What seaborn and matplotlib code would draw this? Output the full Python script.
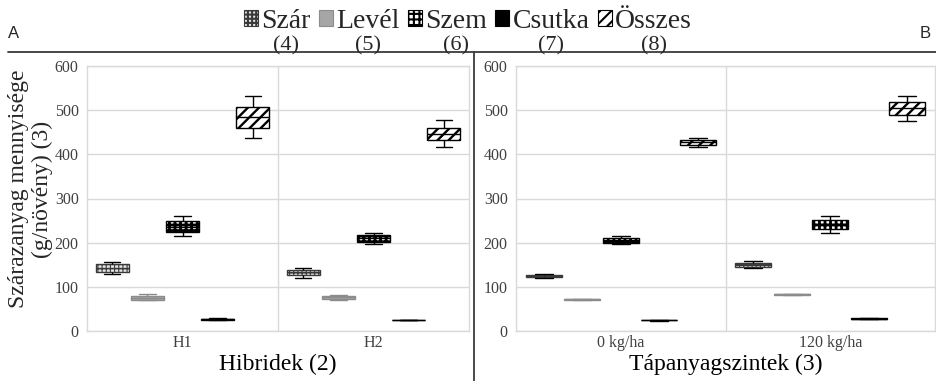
import matplotlib
matplotlib.use("Agg")
import matplotlib.pyplot as plt
from matplotlib.lines import Line2D
from matplotlib.patches import Patch
import seaborn as sns
import pandas as pd

# ---------------- data (min, q1, median, q3, max) ----------------
parts = ["Szár", "Levél", "Szem", "Csutka", "Összes"]
part_nums = ["(4)", "(5)", "(6)", "(7)", "(8)"]

cats_a = ["H1", "H2"]
a_szar = [[128, 134, 142, 151, 157], [121, 127, 133, 139, 143]]
a_level = [[70, 71, 75, 79, 83], [70, 72, 76, 80, 82]]
a_szem = [[215, 225, 236, 248, 261], [196, 201, 210, 217, 223]]
a_csutka = [[24, 25, 26.5, 28, 29], [24, 24.5, 25, 25.5, 26]]
a_osszes = [[437, 460, 484, 507, 532], [417, 432, 447, 460, 477]]

cats_b = ["0 kg/ha", "120 kg/ha"]
b_szar = [[120, 122, 124, 126, 128], [142, 145, 150, 155, 158]]
b_level = [[70, 70.5, 72, 73, 73], [82, 82.5, 83, 83.5, 84]]
b_szem = [[196, 200, 205, 210, 214], [223, 232, 242, 251, 261]]
b_csutka = [[23.5, 24, 24, 24.5, 25], [27, 27.5, 28, 28.5, 29]]
b_osszes = [[417, 422, 427, 433, 437], [475, 489, 504, 518, 533]]

xlabel_a = "Hibridek (2)"
xlabel_b = "Tápanyagszintek (3)"
ylabel = "Szárazanyag mennyisége\n(g/növény) (3)"
yticks = [0, 100, 200, 300, 400, 500, 600]


def long_df(cats, series):
    rows = []
    for part, vals in zip(parts, series):
        for cat, five in zip(cats, vals):
            for v in five:
                rows.append({"cat": cat, "part": part, "val": v})
    return pd.DataFrame(rows)


df_a = long_df(cats_a, [a_szar, a_level, a_szem, a_csutka, a_osszes])
df_b = long_df(cats_b, [b_szar, b_level, b_szem, b_csutka, b_osszes])

# ---------------- styles ----------------
serif = "Liberation Serif"
sns.set_theme(style="white")
plt.rcParams["font.family"] = [serif, "DejaVu Serif"]
plt.rcParams["hatch.linewidth"] = 1.5

styles = {
    "Szár":   dict(face="#e6e6e6", edge="#3a3a3a", hatch="++++", wcol="#000000", hlw=0.8),
    "Levél":  dict(face="#a6a6a6", edge="#8c8c8c", hatch=None, wcol="#8c8c8c", hlw=1.0),
    "Szem":   dict(face="#ffffff", edge="#000000", hatch="+++", wcol="#000000", hlw=2.0),
    "Csutka": dict(face="#000000", edge="#000000", hatch=None, wcol="#000000", hlw=1.0),
    "Összes": dict(face="#ffffff", edge="#000000", hatch="///", wcol="#000000", hlw=1.7),
}
grid_col = "#d9d9d9"
tick_col = "#404040"

fig = plt.figure(figsize=(9.36, 3.81), dpi=100)
ax_a = fig.add_axes([87 / 936, 1 - 331 / 381, (469 - 87) / 936, (331 - 66) / 381])
ax_b = fig.add_axes([516 / 936, 1 - 331 / 381, (935 - 516) / 936, (331 - 66) / 381])


def draw(ax, df, cats, xlabel):
    sns.boxplot(data=df, x="cat", y="val", hue="part", order=cats, hue_order=parts,
                whis=(0, 100), width=0.92, gap=0.06, linewidth=1.0,
                fliersize=0, legend=False, ax=ax,
                palette={p: styles[p]["face"] for p in parts})
    for cont, p in zip(ax.containers, parts):
        st = styles[p]
        for b in cont.boxes:
            b.set_facecolor(st["face"])
            b.set_edgecolor(st["edge"])
            b.set_linewidth(1.0)
            if st["hatch"]:
                b.set_hatch(st["hatch"])
                if hasattr(b, "set_hatch_linewidth"):
                    b.set_hatch_linewidth(st["hlw"])
        for ln in list(cont.whiskers) + list(cont.caps):
            ln.set_color(st["wcol"])
            ln.set_linewidth(1.0)
        for ln in cont.medians:
            ln.set_color(st["edge"] if p != "Levél" else "#8c8c8c")
            ln.set_linewidth(1.0)
    ax.set_ylim(0, 600)
    ax.set_xlim(-0.5, 1.5)
    ax.set_yticks(yticks)
    ax.set_xticks([0, 1])
    ax.set_xticks([0.5], minor=True)
    ax.grid(True, axis="y", color=grid_col, linewidth=1.0)
    ax.grid(True, axis="x", which="minor", color=grid_col, linewidth=1.0)
    ax.set_axisbelow(True)
    for s in ax.spines.values():
        s.set_color(grid_col)
        s.set_linewidth(1.0)
        s.set_visible(True)
    ax.tick_params(axis="y", which="both", length=0, labelsize=11.5, colors=tick_col, pad=6)
    ax.tick_params(axis="x", which="both", length=0, labelsize=11.5, colors=tick_col, pad=3)
    ax.set_xlabel(xlabel, fontsize=17, color="#000000", labelpad=2)
    ax.set_ylabel("")


draw(ax_a, df_a, cats_a, xlabel_a)
draw(ax_b, df_b, cats_b, xlabel_b)
ax_a.set_ylabel(ylabel, fontsize=17, linespacing=1.15)
ax_a.yaxis.set_label_coords(-0.09, 0.535)

# figure separator lines
fig.add_artist(Line2D([8 / 936, 1.0], [1 - 52 / 381, 1 - 52 / 381], transform=fig.transFigure,
                      color="#3a3a3a", linewidth=1.3))
fig.add_artist(Line2D([474 / 936, 474 / 936], [0, 1 - 52 / 381], transform=fig.transFigure,
                      color="#3a3a3a", linewidth=1.3))

fig.text(14 / 936, 1 - 33 / 381, "A", family="Liberation Sans", fontsize=12, ha="center", va="center")
fig.text(925 / 936, 1 - 33 / 381, "B", family="Liberation Sans", fontsize=12, ha="center", va="center")

# legend
handles = []
for p in parts:
    st = styles[p]
    handles.append(Patch(facecolor=st["face"], edgecolor=st["edge"], hatch=st["hatch"], linewidth=0.8))
leg = fig.legend(handles=handles, labels=parts, loc="center", bbox_to_anchor=(468 / 936, 1 - 21 / 381),
                 ncol=5, frameon=False, prop=dict(family=serif, size=20),
                 handlelength=0.5, handleheight=0.5,
                 handletextpad=0.12, columnspacing=0.3, borderpad=0)

fig.canvas.draw()
renderer = fig.canvas.get_renderer()
inv = fig.transFigure.inverted()
for t, num in zip(leg.get_texts(), part_nums):
    bb = t.get_window_extent(renderer)
    cx = (bb.x0 + bb.x1) / 2
    x_fig = inv.transform((cx, 0))[0]
    fig.text(x_fig, 1 - 46 / 381, num, family=serif, fontsize=16, ha="center", va="center")

fig.savefig("out.png", dpi=100)
